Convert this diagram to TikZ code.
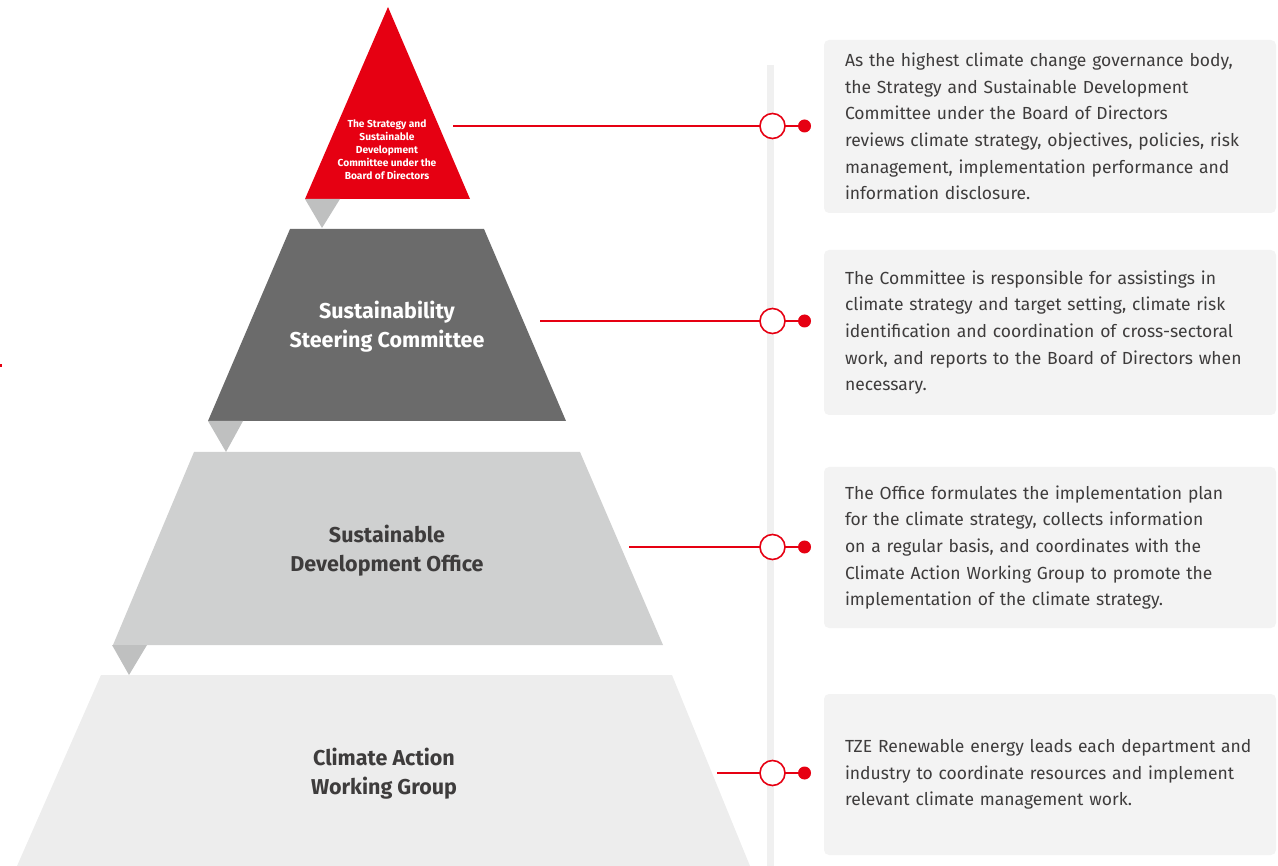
\documentclass[tikz,border=0pt]{standalone}
\usepackage{fontspec}
\setmainfont{Fira Sans}
\usepackage{tikz}
\usepackage{xcolor}
\usetikzlibrary{positioning}
\definecolor{tzered}{RGB}{230,0,18}
\definecolor{tiertwo}{RGB}{107,107,107}
\definecolor{tierthree}{RGB}{207,208,208}
\definecolor{tierfour}{RGB}{237,237,237}
\definecolor{foldgray}{RGB}{191,192,192}
\definecolor{boxgray}{RGB}{243,243,243}
\definecolor{railgray}{RGB}{240,240,240}
\definecolor{textgray}{RGB}{62,60,60}

\begin{document}
\begin{tikzpicture}[x=1pt, y=-1pt,
    tierlabel/.style={font=\bfseries\fontsize{21.5}{29}\selectfont, align=center},
    infobox/.style={rectangle, fill=boxgray, rounded corners=5pt, minimum width=452pt, text width=410pt, inner xsep=21pt, align=left, text=textgray, font=\fontsize{17.5}{26.7}\selectfont},
    ring/.style={circle, draw=tzered, line width=1.6pt, fill=white, minimum size=25pt, inner sep=0pt, outer sep=0pt},
    reddot/.style={circle, fill=tzered, minimum size=13pt, inner sep=0pt, outer sep=0pt},
    link/.style={draw=tzered, line width=1.6pt}
]
\useasboundingbox (0,0) rectangle (1278,866);

% pyramid
\fill[tzered] (388,7) -- (470,199) -- (305,199) -- cycle;
\fill[foldgray] (305,199) -- (340,199) -- (322,228) -- cycle;
\fill[tiertwo] (290,229) -- (484,229) -- (566,421) -- (208,421) -- cycle;
\fill[foldgray] (208,421) -- (243,421) -- (226,452) -- cycle;
\fill[tierthree] (194,452) -- (580,452) -- (663,645) -- (113,645) -- cycle;
\fill[foldgray] (112,645) -- (147,645) -- (129,675) -- cycle;
\fill[tierfour] (101,675) -- (672,675) -- (750,866) -- (17,866) -- cycle;
\fill[tzered] (0,364) rectangle (2,367);

\node[align=center, text=white, font=\bfseries\fontsize{10.2}{13}\selectfont] (board) at (387,150)
  {The Strategy and\\Sustainable\\Development\\Committee under the\\Board of Directors};
\node[tierlabel, text=white] (steering) at (387,327) {Sustainability\\Steering Committee};
\node[tierlabel, text=textgray] (office) at (387,551) {Sustainable\\Development Office};
\node[tierlabel, text=textgray] (group) at (384,774) {Climate Action\\Working Group};

% rail and boxes
\draw[railgray, line width=7pt] (770.5,65) -- (770.5,866);

\node[infobox, minimum height=173pt] (box1) at (1050,126.5)
  {As the highest climate change governance body,\\the Strategy and Sustainable Development\\Committee under the Board of Directors\\reviews climate strategy, objectives, policies, risk\\management, implementation performance and\\information disclosure.};
\node[infobox, minimum height=165pt] (box2) at (1050,332.5)
  {The Committee is responsible for assistings in\\climate strategy and target setting, climate risk\\identification and coordination of cross-sectoral\\work, and reports to the Board of Directors when\\necessary.};
\node[infobox, minimum height=161pt] (box3) at (1050,547.5)
  {The Office formulates the implementation plan\\for the climate strategy, collects information\\on a regular basis, and coordinates with the\\Climate Action Working Group to promote the\\implementation of the climate strategy.};
\node[infobox, minimum height=161pt] (box4) at (1050,774.5)
  {TZE Renewable energy leads each department and\\industry to coordinate resources and implement\\relevant climate management work.};

% connectors
\coordinate (start1) at (453,126);
\coordinate (start2) at (540,321);
\coordinate (start3) at (629,547);
\coordinate (start4) at (717,773);
\node[ring] (ring1) at (772.5,126) {};
\node[ring] (ring2) at (772.5,321) {};
\node[ring] (ring3) at (772.5,547) {};
\node[ring] (ring4) at (772.5,773) {};
\node[reddot, right=13pt of ring1] (dot1) {};
\node[reddot, right=13pt of ring2] (dot2) {};
\node[reddot, right=13pt of ring3] (dot3) {};
\node[reddot, right=13pt of ring4] (dot4) {};

\draw[link] (start1) -- (ring1) -- (dot1);
\draw[link] (start2) -- (ring2) -- (dot2);
\draw[link] (start3) -- (ring3) -- (dot3);
\draw[link] (start4) -- (ring4) -- (dot4);

\end{tikzpicture}
\end{document}
